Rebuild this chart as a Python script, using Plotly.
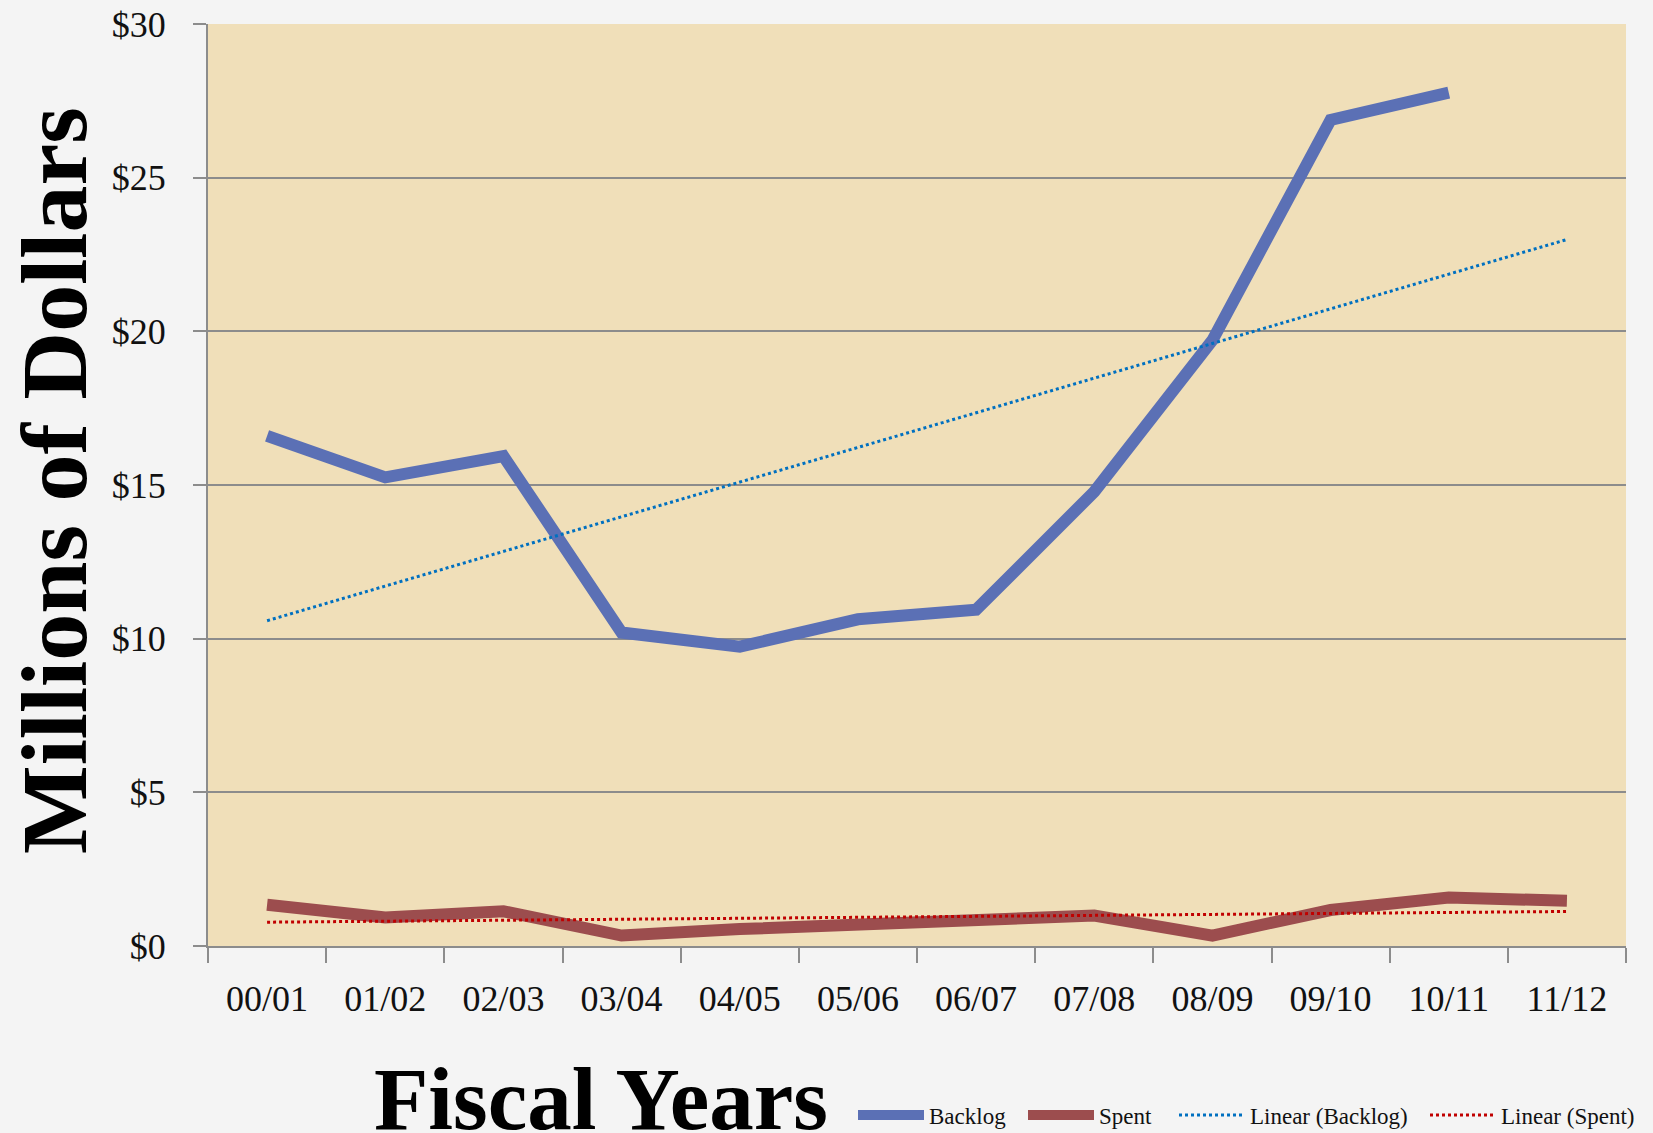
import numpy as np
import plotly.graph_objects as go

years = ["00/01", "01/02", "02/03", "03/04", "04/05", "05/06",
         "06/07", "07/08", "08/09", "09/10", "10/11", "11/12"]
backlog = [16.6, 15.25, 15.94, 10.2, 9.74, 10.63, 10.94, 14.78, 19.71, 26.88, 27.77, None]
spent = [1.34, 0.93, 1.13, 0.34, 0.55, 0.69, 0.86, 0.99, 0.34, 1.17, 1.58, 1.47]
y_ticks = [0, 5, 10, 15, 20, 25, 30]
y_tick_text = ["$" + str(v) for v in y_ticks]

# Linear trendlines (Excel-style least squares, Backlog forecast forward 1 period)
xb = np.array([i + 1 for i, v in enumerate(backlog) if v is not None], dtype=float)
yb = np.array([v for v in backlog if v is not None], dtype=float)
mb, cb = np.polyfit(xb, yb, 1)
xs_all = np.arange(1, len(years) + 1, dtype=float)
trend_backlog = list(mb * xs_all + cb)
ms, cs = np.polyfit(xs_all, np.array(spent, dtype=float), 1)
trend_spent = list(ms * xs_all + cs)

FONT = "Liberation Serif"
W, H = 1653, 1133
L, R, T, B = 208, 27, 24, 187
pw, ph = W - L - R, H - T - B

def px_x(p):
    return (p - L) / pw

def px_y(p):
    return (H - B - p) / ph

fig = go.Figure()
fig.add_trace(go.Scatter(x=years, y=backlog, name="Backlog", mode="lines",
                         line=dict(color="#5B70B5", width=12), connectgaps=False,
                         legendwidth=89))
fig.add_trace(go.Scatter(x=years, y=spent, name="Spent", mode="lines",
                         line=dict(color="#9C4D4E", width=12), legendwidth=70))
fig.add_trace(go.Scatter(x=years, y=trend_backlog, name="Linear (Backlog)", mode="lines",
                         line=dict(color="#0070C0", width=3, dash="dot"), legendwidth=170))
fig.add_trace(go.Scatter(x=years, y=trend_spent, name="Linear (Spent)", mode="lines",
                         line=dict(color="#C00000", width=3, dash="dot")))

fig.update_layout(
    width=W, height=H,
    margin=dict(l=L, r=R, t=T, b=B, pad=0, autoexpand=False),
    paper_bgcolor="#f4f4f4",
    plot_bgcolor="#F0DFB9",
    font=dict(family=FONT, color="#111111"),
    showlegend=True,
    legend=dict(orientation="h", x=px_x(853), xanchor="left", y=px_y(1115), yanchor="middle",
                font=dict(family=FONT, size=23, color="#111111"),
                bgcolor="rgba(0,0,0,0)", tracegroupgap=0, itemwidth=66),
    xaxis=dict(type="category", tickson="boundaries", ticks="outside", ticklen=15,
               tickcolor="#8c8c8c", tickwidth=2, showline=True, linecolor="#8c8c8c",
               linewidth=2, showgrid=False, tickfont=dict(family=FONT, size=36),
               ticklabelstandoff=20, range=[-0.5, 11.5]),
    yaxis=dict(range=[0, 30], tickmode="array", tickvals=y_ticks, ticktext=y_tick_text,
               ticks="outside", ticklen=13,
               tickcolor="#8c8c8c", tickwidth=2, showline=True, linecolor="#8c8c8c",
               linewidth=2, showgrid=True, gridcolor="#8c8c8c", gridwidth=2,
               zeroline=False, tickfont=dict(family=FONT, size=36), ticklabelstandoff=20),
    annotations=[
        dict(text="<b>Millions of Dollars</b>", xref="paper", yref="paper",
             x=px_x(54), y=px_y(481), xanchor="center", yanchor="middle",
             textangle=-90, showarrow=False, font=dict(family=FONT, size=94, color="#000000")),
        dict(text="<b>Fiscal Years</b>", xref="paper", yref="paper",
             x=px_x(601), y=px_y(1099), xanchor="center", yanchor="middle",
             showarrow=False, font=dict(family=FONT, size=89, color="#000000")),
    ],
)

fig.write_html("out.html", config={"displayModeBar": False},
               post_script="document.body.style.margin='0';")
